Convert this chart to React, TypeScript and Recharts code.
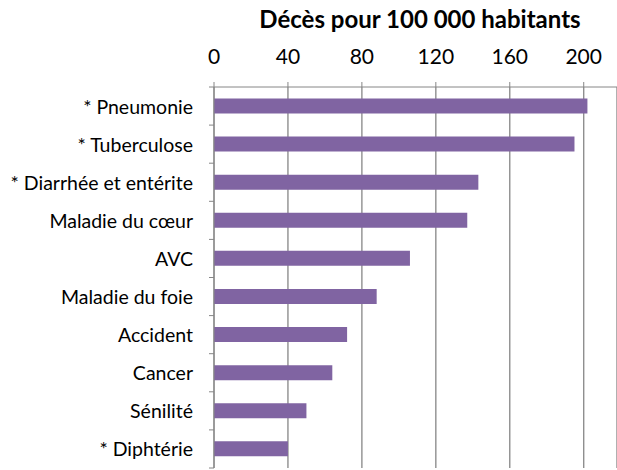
import { BarChart, Bar, XAxis, YAxis, CartesianGrid } from 'recharts'

const categories = [
    '* Pneumonie',
    '* Tuberculose',
    '* Diarrhée et entérite',
    'Maladie du cœur',
    'AVC',
    'Maladie du foie',
    'Accident',
    'Cancer',
    'Sénilité',
    '* Diphtérie',
]
const deaths = [202, 195, 143, 137, 106, 88, 72, 64, 50, 40]
const xTicks = [0, 40, 80, 120, 160, 200]

const W = 617
const H = 470
const TOP = 87
const BOTTOM = 2
const BAND = (H - TOP - BOTTOM) / categories.length
const FONT = 'Lato, "Open Sans", sans-serif'
const AXIS = '#868686'

const data = categories.map((name, i) => ({ name, value: deaths[i] }))

// category label + boundary tick marks (Excel style: ticks between categories)
function CatTick(props: any) {
    const { x, y, payload, index } = props
    return (
        <g>
            <text
                x={x - 21}
                y={y}
                textAnchor="end"
                dominantBaseline="central"
                fontFamily={FONT}
                fontSize={19.5}
                fill="#000"
            >
                {payload.value}
            </text>
            {index === 0 && (
                <line x1={x - 5} x2={x} y1={y - BAND / 2} y2={y - BAND / 2} stroke={AXIS} />
            )}
            <line x1={x - 5} x2={x} y1={y + BAND / 2} y2={y + BAND / 2} stroke={AXIS} />
        </g>
    )
}

export default function App() {
    return (
        <div style={{ position: 'absolute', left: 0, top: 0, width: W, height: H, overflow: 'hidden', background: '#fff' }}>
            <div
                style={{
                    position: 'absolute', left: 0, top: 4, width: 840, textAlign: 'center',
                    fontFamily: FONT, fontWeight: 700, fontSize: 24, color: '#000',
                }}
            >
                Décès pour 100 000 habitants
            </div>
            <BarChart
                width={W}
                height={H}
                data={data}
                layout="vertical"
                barCategoryGap="30%"
                margin={{ top: 0, right: 0, bottom: BOTTOM, left: 0 }}
            >
                <CartesianGrid horizontal={false} stroke={AXIS} strokeWidth={1.3} />
                <XAxis
                    type="number"
                    orientation="top"
                    domain={[0, 218]}
                    ticks={xTicks}
                    height={TOP}
                    tickSize={5}
                    tickMargin={18}
                    stroke={AXIS}
                    tick={{ fontFamily: FONT, fontSize: 21, fill: '#000' }}
                    interval={0}
                />
                <YAxis
                    type="category"
                    dataKey="name"
                    width={214}
                    tickSize={0}
                    tickMargin={0}
                    stroke={AXIS}
                    tick={<CatTick />}
                    interval={0}
                />
                <Bar dataKey="value" fill="#8064A2" isAnimationActive={false} />
            </BarChart>
        </div>
    )
}
